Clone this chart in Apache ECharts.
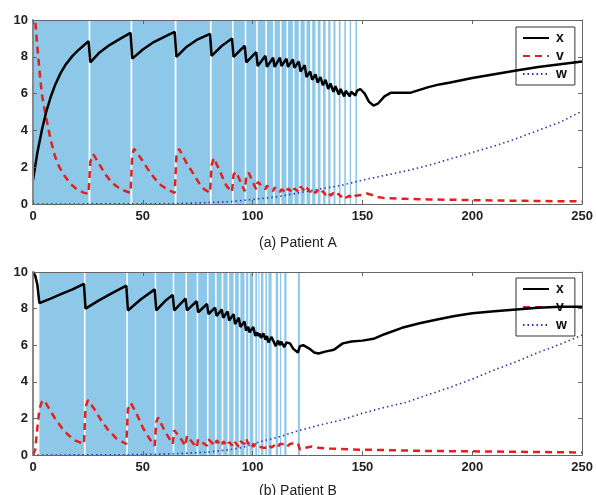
<!DOCTYPE html>
<html>
<head>
<meta charset="utf-8">
<script src="https://cdn.jsdelivr.net/npm/echarts@6/dist/echarts.min.js"></script>
<style>
  html, body { margin: 0; padding: 0; background: #fff; }
  #main { width: 596px; height: 495px; }
</style>
</head>
<body>
<div id="main"></div>
<script>
// treatment "on" periods (blue bands), [start, end] in days
const onA = [[0,25.3],[26.1,44.4],[45.2,64.5],[65.3,80.6],[81.3,90.6],[91.3,96.4],[97.1,101.6],[102.3,105.8],[106.5,109.3],[110,112.4],[113.1,115.4],[116.1,118.3],[119.0,121.0],[121.8,123.7],[124.5,126.2],[127.1,128.6],[129.6,130.9],[132.0,133.2],[134.4,135.4],[136.8,137.7],[139.2,140.0],[141.7,142.4],[144.2,144.8],[146.8,147.5]];
const onB = [[2.9,23.2],[23.9,42.5],[43.2,55.4],[56.1,63.6],[64.3,69.4],[70.1,74.5],[75.2,79.2],[79.9,82.9],[83.6,85.9],[86.6,88.6],[89.3,91.3],[92.0,93.7],[94.4,96.3],[97.0,98.0],[98.6,100.3],[101.2,102.0],[102.6,103.1],[103.8,104.9],[105.8,106.5],[107.2,108.6],[110.5,111.6],[112.4,113.0],[114.4,115.4],[120.6,121.5]];

// Patient A
const xA = [[0,1.3],[2,2.8],[4,4.0],[6,5.0],[8,5.8],[10,6.45],[12.5,7.1],[15,7.6],[18,8.05],[21,8.4],[25.3,8.85],
  [26.1,7.7],[30,8.2],[35,8.65],[40,9.0],[44.4,9.3],
  [45.2,7.9],[50,8.4],[55,8.8],[60,9.1],[64.5,9.35],
  [65.3,8.0],[70,8.55],[75,8.95],[80.6,9.25],
  [81.3,8.05],[86,8.6],[90.6,9.0],
  [91.3,8.0],[96.4,8.6],
  [97.1,7.7],[101.6,8.25],
  [102.3,7.5],[105.8,8.05],
  [106.5,7.45],[109.3,7.95],
  [110,7.45],[112.4,7.95],
  [113.1,7.5],[115.4,7.9],
  [116.1,7.45],[118.3,7.85],
  [119.0,7.4],[121.0,7.75],
  [121.8,7.2],[123.7,7.55],
  [124.5,6.9],[126.2,7.2],
  [127.1,6.75],[128.6,7.05],
  [129.6,6.6],[130.9,6.9],
  [132.0,6.45],[133.2,6.75],
  [134.4,6.25],[135.4,6.55],
  [136.8,6.1],[137.7,6.4],
  [139.2,5.95],[140.0,6.25],
  [141.7,5.85],[142.4,6.15],
  [144.2,5.85],[144.8,6.1],
  [146.8,5.9],[147.5,6.15],
  [149,6.25],[151,6.0],[153,5.55],[155,5.35],[157,5.45],[160,5.85],[163,6.05],[167,6.05],[172,6.05],[176,6.2],[180,6.35],[185,6.5],[190,6.6],[200,6.85],[210,7.05],[220,7.25],[230,7.45],[240,7.6],[250,7.75]];
const vA = [[0.5,10.5],[1,10],[2,8.5],[3,7.2],[4,6.0],[5,5.3],[6,4.7],[8,3.5],[10,2.6],[12,2.0],[14,1.6],[17,1.1],[20,0.8],[23,0.62],[25.3,0.55],
  [26.1,2.3],[27.5,2.7],[30,2.2],[33,1.6],[36,1.15],[40,0.8],[44.4,0.6],
  [45.2,2.7],[46,3.0],[49,2.5],[52,1.95],[55,1.45],[58,1.05],[61,0.8],[64.5,0.6],
  [65.3,2.6],[66.5,3.0],[70,2.2],[73,1.65],[76,1.05],[78,0.8],[80.6,0.6],
  [81.3,2.1],[82.3,2.5],[85,1.8],[88,1.0],[90.6,0.65],
  [91.3,1.6],[92.5,1.75],[94.5,1.2],[96.4,0.7],
  [97.1,1.5],[98.2,1.7],[100,1.2],[101.6,0.8],
  [102.3,1.2],[103.2,1.3],[105.8,0.8],
  [106.5,1.0],[107.3,1.1],[109.3,0.7],
  [110,0.9],[110.8,1.0],[112.4,0.65],
  [113.1,0.8],[114,0.9],[115.4,0.6],
  [116.1,0.85],[118.3,0.6],[119.0,0.85],[121.0,0.65],[121.8,0.95],[123.7,0.7],[124.5,0.9],[126.2,0.65],[127.1,0.8],[128.6,0.6],[129.6,0.75],[130.9,0.55],[132.0,0.7],[133.2,0.5],[134.4,0.65],[135.4,0.45],[136.8,0.6],[137.7,0.45],[139.2,0.55],[140.0,0.4],[141.7,0.5],[142.4,0.35],[144.2,0.45],[144.8,0.3],[146.8,0.45],[147.5,0.35],
  [150,0.5],[152,0.57],[154,0.5],[157,0.38],[160,0.32],[170,0.28],[180,0.25],[200,0.21],[225,0.17],[250,0.14]];
const wA = [[0,0],[60,0.01],[70,0.04],[80,0.08],[90,0.13],[100,0.25],[110,0.37],[120,0.58],[130,0.8],[140,1.0],[150,1.3],[160,1.55],[170,1.8],[180,2.1],[190,2.45],[200,2.8],[210,3.15],[220,3.55],[230,4.0],[240,4.45],[250,5.05]];

// Patient B
const xB = [[0,10.0],[1,9.8],[2,9.3],[2.9,8.3],[8,8.55],[13,8.8],[18,9.05],[23.2,9.35],
  [23.9,8.0],[30,8.45],[36,8.85],[42.5,9.25],
  [43.2,7.9],[49,8.5],[55.4,9.05],
  [56.1,7.9],[60,8.4],[63.6,8.75],
  [64.3,7.9],[69.4,8.55],
  [70.1,7.9],[74.5,8.4],
  [75.2,7.8],[79.2,8.25],
  [79.9,7.7],[82.9,8.05],
  [83.6,7.6],[85.9,7.95],
  [86.6,7.5],[88.6,7.85],
  [89.3,7.35],[91.3,7.7],
  [92.0,7.15],[93.7,7.5],
  [94.4,7.0],[96.3,7.3],
  [97.0,6.8],[98.0,7.0],
  [98.6,6.7],[100.3,7.0],
  [101.2,6.5],[102.0,6.7],
  [102.6,6.5],[103.1,6.65],
  [103.8,6.4],[104.9,6.65],
  [105.8,6.3],[106.5,6.5],
  [107.2,6.15],[108.6,6.45],
  [110.5,5.95],[111.6,6.25],
  [112.4,6.0],[113.0,6.2],
  [114.4,5.9],[115.4,6.15],
  [117,6.1],[118.5,5.8],[120.6,5.6],[121.5,5.95],
  [123,6.0],[126,5.8],[128,5.6],[130,5.55],[133,5.65],[137,5.75],[141,6.1],[145,6.2],[150,6.25],[155,6.35],[160,6.6],[168,6.95],[176,7.2],[184,7.4],[192,7.6],[200,7.75],[210,7.85],[220,7.95],[230,8.05],[240,8.1],[250,8.1]];
const vB = [[0,0],[1,0.3],[2,1.5],[2.9,2.5],[4,2.9],[5,3.0],[7,2.6],[10,2.0],[13,1.5],[16,1.1],[19,0.8],[23.2,0.6],
  [23.9,2.6],[25,3.0],[28,2.5],[31,1.9],[34,1.4],[38,0.9],[42.5,0.6],
  [43.2,2.5],[44.5,2.85],[47,2.3],[50,1.5],[53,0.9],[55.4,0.5],
  [56.1,1.8],[57,2.05],[60,1.3],[63.6,0.6],
  [64.3,1.35],[65,1.45],[67,0.95],[69.4,0.5],
  [70.1,1.05],[70.8,1.15],[72.5,0.7],[74.5,0.4],
  [75.2,0.85],[76,0.95],[79.2,0.5],
  [79.9,0.85],[80.6,0.9],[82.9,0.5],
  [83.6,0.8],[84.3,0.85],[85.9,0.5],
  [86.6,0.75],[88.6,0.5],
  [89.3,0.7],[91.3,0.45],
  [92.0,0.7],[93.7,0.45],
  [94.4,0.75],[96.3,0.6],
  [97.0,0.9],[98.0,0.6],
  [98.6,0.75],[100.3,0.45],
  [101.2,0.6],[102.0,0.45],[102.6,0.55],[103.1,0.45],[103.8,0.55],[104.9,0.4],[105.8,0.5],[106.5,0.4],[107.2,0.55],[108.6,0.4],[110.5,0.6],[111.6,0.45],[112.4,0.6],[113.0,0.5],[114.4,0.6],[115.4,0.45],
  [117,0.6],[119,0.65],[120.6,0.65],[121.5,0.3],[124,0.4],[127,0.47],[130,0.4],[135,0.35],[145,0.3],[160,0.27],[180,0.22],[200,0.2],[225,0.17],[250,0.14]];
const wB = [[0,0],[40,0.01],[60,0.05],[70,0.1],[80,0.16],[90,0.3],[95,0.4],[100,0.6],[105,0.78],[110,0.92],[115,1.1],[120,1.3],[130,1.62],[140,1.9],[150,2.28],[160,2.6],[170,2.88],[180,3.3],[190,3.7],[200,4.15],[210,4.65],[220,5.1],[230,5.6],[240,6.05],[250,6.55]];

const seriesNames = ["x", "v", "w"];
const panelTitles = ["(a) Patient A", "(b) Patient B"];

const font = "Liberation Sans";
const frame = "#666";
const bandColor = "#8ec8e8";

function bottomX(i) {
  return {
    type: "value", gridIndex: i, min: 0, max: 250, interval: 50, z: 10,
    axisLine: { onZero: false, lineStyle: { color: frame, width: 1 } },
    axisTick: { inside: true, length: 4, lineStyle: { color: frame } },
    axisLabel: { fontFamily: font, fontWeight: "bold", fontSize: 13, color: "#222", margin: 6 },
    splitLine: { show: false },
  };
}
function topX(i) {
  return {
    type: "value", gridIndex: i, position: "top", min: 0, max: 250, interval: 50, z: 10,
    axisLine: { onZero: false, lineStyle: { color: frame, width: 1 } },
    axisTick: { inside: true, length: 4, lineStyle: { color: frame } },
    axisLabel: { show: false },
    splitLine: { show: false },
  };
}
function leftY(i) {
  return {
    type: "value", gridIndex: i, min: 0, max: 10, interval: 2, z: 10,
    axisLine: { show: true, onZero: false, lineStyle: { color: "#888", width: 2 } },
    axisTick: { show: true, inside: true, length: 4, lineStyle: { color: frame } },
    axisLabel: { fontFamily: font, fontWeight: "bold", fontSize: 13, color: "#222", margin: 5 },
    splitLine: { show: false },
  };
}
function rightY(i) {
  return {
    type: "value", gridIndex: i, position: "right", min: 0, max: 10, interval: 2, z: 10,
    axisLine: { show: true, onZero: false, lineStyle: { color: frame, width: 1 } },
    axisTick: { show: true, inside: true, length: 4, lineStyle: { color: frame } },
    axisLabel: { show: false },
    splitLine: { show: false },
  };
}

function bands(list) {
  return list.map((p) => [{ xAxis: p[0] }, { xAxis: p[1] }]);
}

function panelSeries(i, on, xs, vs, ws) {
  let ax = { xAxisIndex: i * 2, yAxisIndex: i * 2 };
  return [
    {
      // blue shading = therapy on
      name: "on" + i, type: "line", ...ax, data: [], symbol: "none", z: 1,
      markArea: { silent: true, itemStyle: { color: bandColor, opacity: 1 }, data: bands(on) },
    },
    { name: "x", type: "line", ...ax, data: xs, symbol: "none", z: 5,
      lineStyle: { color: "#000", width: 2.5 }, itemStyle: { color: "#000" } },
    { name: "v", type: "line", ...ax, data: vs, symbol: "none", z: 4,
      lineStyle: { color: "#e3211c", width: 2.5, type: [7, 5] }, itemStyle: { color: "#e3211c" } },
    { name: "w", type: "line", ...ax, data: ws, symbol: "none", z: 3,
      lineStyle: { color: "#2b38a8", width: 1.6, type: [1.5, 3] }, itemStyle: { color: "#2b38a8" } },
  ];
}

function legendAt(top) {
  return {
    data: seriesNames, orient: "vertical", left: 516, top: top,
    width: 62, itemWidth: 26, itemHeight: 10, itemGap: 4,
    padding: [4, 8, 4, 6],
    backgroundColor: "#fff", borderColor: "#333", borderWidth: 1,
    selectedMode: false,
    itemStyle: { opacity: 0 }, // line only, no symbol
    textStyle: { fontFamily: font, fontWeight: "bold", fontSize: 14, color: "#111", padding: [0, 0, 0, 2] },
  };
}

let myChart = echarts.init(document.getElementById("main"));
myChart.setOption({
  animation: false,
  backgroundColor: "#fff",
  title: [
    { text: panelTitles[0], left: "center", top: 231, textStyle: { fontFamily: font, fontWeight: "normal", fontSize: 14, color: "#222" } },
    { text: panelTitles[1], left: "center", top: 479, textStyle: { fontFamily: font, fontWeight: "normal", fontSize: 14, color: "#222" } },
  ],
  legend: [legendAt(27), legendAt(278)],
  grid: [
    { left: 33, top: 20, width: 550, height: 184 },
    { left: 33, top: 272, width: 550, height: 183 },
  ],
  xAxis: [bottomX(0), topX(0), bottomX(1), topX(1)],
  yAxis: [leftY(0), rightY(0), leftY(1), rightY(1)],
  series: [
    ...panelSeries(0, onA, xA, vA, wA),
    ...panelSeries(1, onB, xB, vB, wB),
  ],
});
</script>
</body>
</html>
